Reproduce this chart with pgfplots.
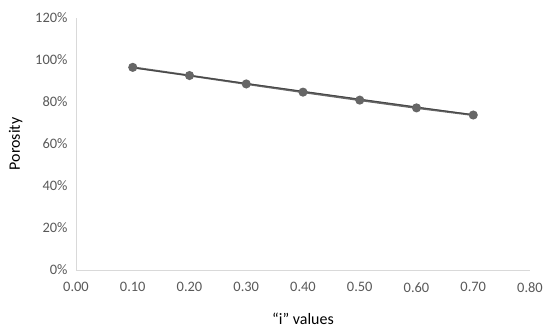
\documentclass[border=0pt]{standalone}
\usepackage{pgfplots}
\pgfplotsset{compat=1.18}
\usepackage{fontspec}
\setmainfont{Carlito}
\definecolor{txt}{HTML}{595959}
\definecolor{axl}{HTML}{D9D9D9}
\definecolor{ser}{HTML}{666666}
\begin{document}
\begin{tikzpicture}
\begin{axis}[
  scale only axis,
  width=454bp, height=252bp,
  xmin=0, xmax=0.8, ymin=0, ymax=120,
  xtick={0,0.1,0.2,0.3,0.4,0.5,0.6,0.7,0.8},
  ytick={0,20,...,120},
  axis lines*=left,
  axis line style={axl, line width=1pt, -},
  tick style={draw=none},
  /pgf/number format/assume math mode=true,
  xticklabel style={/pgf/number format/fixed, /pgf/number format/fixed zerofill, /pgf/number format/precision=2, yshift=-9bp},
  yticklabel={\pgfmathprintnumber{\tick}\%},
  ticklabel style={font=\fontsize{14.5}{16}\selectfont, text=txt},
  yticklabel style={xshift=-5bp},
  xlabel={“i” values},
  ylabel={Porosity},
  label style={font=\fontsize{16}{18}\selectfont, text=black},
  xlabel style={yshift=-14bp},
  ylabel style={yshift=6bp},
  clip=false,
]
\addplot[ser, line width=2pt, mark=*, mark size=3.5bp, mark options={fill=ser, draw=ser}]
coordinates {(0.1,96.5) (0.2,92.6) (0.3,88.6) (0.4,84.7) (0.5,80.9) (0.6,77.2) (0.7,73.8)};
\addplot[ser!70!black, line width=1pt]
coordinates {(0.1,96.3) (0.7,73.9)};
\end{axis}
\pgfresetboundingbox
\path (current axis.south west) ++(-76bp,-64bp) rectangle ++(550bp,334bp);
\end{tikzpicture}
\end{document}
